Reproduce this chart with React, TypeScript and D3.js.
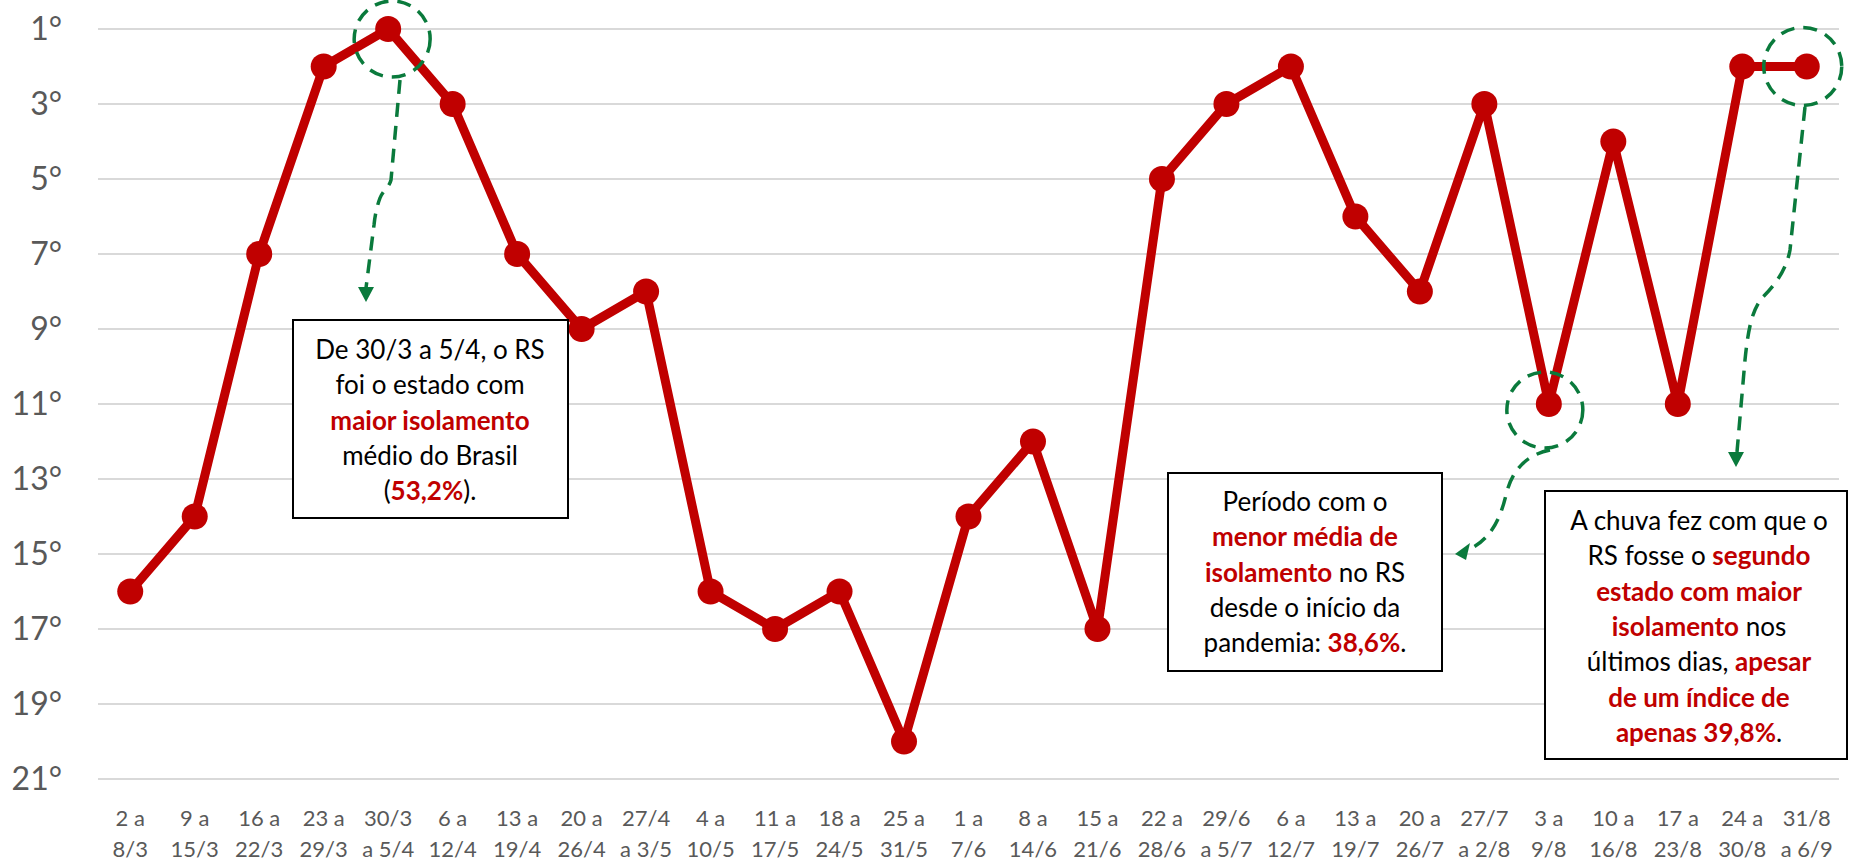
import React from "react";
import * as d3 from "d3";

const periods: string[][] = [
  ["2 a", "8/3"], ["9 a", "15/3"], ["16 a", "22/3"], ["23 a", "29/3"], ["30/3", "a 5/4"],
  ["6 a", "12/4"], ["13 a", "19/4"], ["20 a", "26/4"], ["27/4", "a 3/5"], ["4 a", "10/5"],
  ["11 a", "17/5"], ["18 a", "24/5"], ["25 a", "31/5"], ["1 a", "7/6"], ["8 a", "14/6"],
  ["15 a", "21/6"], ["22 a", "28/6"], ["29/6", "a 5/7"], ["6 a", "12/7"], ["13 a", "19/7"],
  ["20 a", "26/7"], ["27/7", "a 2/8"], ["3 a", "9/8"], ["10 a", "16/8"], ["17 a", "23/8"],
  ["24 a", "30/8"], ["31/8", "a 6/9"],
];
const ranking: number[] = [16, 14, 7, 2, 1, 3, 7, 9, 8, 16, 17, 16, 20, 14, 12, 17, 5, 3, 2, 6, 8, 3, 11, 4, 11, 2, 2];
const yTicks: number[] = [1, 3, 5, 7, 9, 11, 13, 15, 17, 19, 21];

type Seg = { t: string; hi?: boolean };
const note1: Seg[][] = [
  [{ t: "De 30/3 a 5/4, o RS" }],
  [{ t: "foi o estado com" }],
  [{ t: "maior isolamento", hi: true }],
  [{ t: "médio do Brasil" }],
  [{ t: "(" }, { t: "53,2%", hi: true }, { t: ")." }],
];
const note2: Seg[][] = [
  [{ t: "Período com o" }],
  [{ t: "menor média de", hi: true }],
  [{ t: "isolamento", hi: true }, { t: " no RS" }],
  [{ t: "desde o início da" }],
  [{ t: "pandemia: " }, { t: "38,6%", hi: true }, { t: "." }],
];
const note3: Seg[][] = [
  [{ t: "A chuva fez com que o" }],
  [{ t: "RS fosse o " }, { t: "segundo", hi: true }],
  [{ t: "estado com maior", hi: true }],
  [{ t: "isolamento", hi: true }, { t: " nos" }],
  [{ t: "últimos dias, " }, { t: "apesar", hi: true }],
  [{ t: "de um índice de", hi: true }],
  [{ t: "apenas 39,8%", hi: true }, { t: "." }],
];

const RED = "#C00000";
const GREEN = "#0A7A3C";
const FONT = "Lato, 'Open Sans', sans-serif";

const Note = ({ x, y, w, h, lines, cx, firstY }: { x: number; y: number; w: number; h: number; lines: Seg[][]; cx: number; firstY: number }) => (
  <g>
    <rect x={x} y={y} width={w} height={h} fill="#fff" stroke="#000" strokeWidth={2} />
    {lines.map((line, i) => (
      <text key={i} x={cx} y={firstY + i * 35.3} textAnchor="middle" fontSize={26} fontFamily={FONT} fill="#000">
        {line.map((s, j) => (
          <tspan key={j} fill={s.hi ? RED : "#000"} fontWeight={s.hi ? 700 : 400}>{s.t}</tspan>
        ))}
      </text>
    ))}
  </g>
);

export default function App() {
  const W = 1849, H = 861;
  const cats = periods.map((p, i) => String(i));
  const x = d3.scaleBand<string>().domain(cats).range([98, 1839]);
  const y = d3.scaleLinear().domain([1, 21]).range([29, 779]);
  const cx = (i: number) => (x(String(i)) || 0) + x.bandwidth() / 2;

  const line = d3.line<number>().x((d, i) => cx(i)).y((d) => y(d));

  // arrow heads
  const arrowDown = (tx: number, ty: number) => `M${tx - 8},${ty - 15} L${tx + 8},${ty - 15} L${tx},${ty} Z`;
  const arrowLeft = (tx: number, ty: number) => `M${tx + 15},${ty - 11} L${tx + 11},${ty + 6} L${tx},${ty} Z`;

  const c1 = { x: cx(4) + 4, y: y(1) + 10 };
  const c2 = { x: cx(22) - 4, y: y(11) + 6 };
  const c3 = { x: cx(26) - 4, y: y(2) };

  return (
    <svg width={W} height={H} style={{ position: "absolute", left: 0, top: 0, background: "#fff" }}>
      {yTicks.map((t) => (
        <g key={t}>
          <line x1={98} x2={1839} y1={y(t)} y2={y(t)} stroke="#D9D9D9" strokeWidth={2} />
          <text x={62} y={y(t) + 11} textAnchor="end" fontSize={32} fontFamily={FONT} fill="#595959">{t}°</text>
        </g>
      ))}
      {periods.map((p, i) => (
        <g key={i} fontSize={22} fontFamily={FONT} fill="#595959" textAnchor="middle">
          <text x={cx(i)} y={826}>{p[0]}</text>
          <text x={cx(i)} y={857}>{p[1]}</text>
        </g>
      ))}
      <path d={line(ranking) || ""} fill="none" stroke={RED} strokeWidth={9} strokeLinejoin="round" />
      {ranking.map((v, i) => (
        <circle key={i} cx={cx(i)} cy={y(v)} r={13} fill={RED} />
      ))}

      <g fill="none" stroke={GREEN} strokeWidth={3.5} strokeDasharray="14 9">
        <circle cx={c1.x} cy={c1.y} r={38} />
        <circle cx={c2.x} cy={c2.y} r={38} />
        <circle cx={c3.x} cy={c3.y} r={39} />
        <path d="M400,80 L391,180 C389,188 383,190 380,198 C377,206 375,215 374,225 L366,288" />
        <path d="M1550,450 C1526,455 1512,470 1506,495 C1500,520 1490,540 1468,550" />
        <path d="M1805,107 L1790,250 C1786,272 1772,288 1762,298 C1752,310 1748,330 1745,360 L1737,452" />
      </g>
      <g fill={GREEN}>
        <path d={arrowDown(366, 302)} />
        <path d={arrowLeft(1455, 554)} />
        <path d={arrowDown(1736, 467)} />
      </g>

      <Note x={293} y={320} w={275} h={198} lines={note1} cx={430} firstY={359} />
      <Note x={1168} y={473} w={274} h={198} lines={note2} cx={1305} firstY={511} />
      <Note x={1545} y={491} w={302} h={268} lines={note3} cx={1699} firstY={530} />
    </svg>
  );
}
